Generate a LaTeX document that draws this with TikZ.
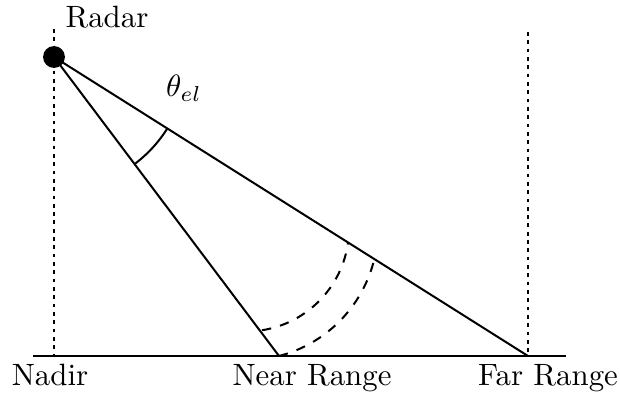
\documentclass[tikz,border=0pt]{standalone}
\usepackage{amsmath, amssymb}
\usepackage{tikz}
\usetikzlibrary{calc}

\begin{document}
\begin{tikzpicture}[
  x=0.0114cm, y=0.0114cm,
  line width=0.65pt,
  dot/.style={circle, fill=black, inner sep=0pt, minimum size=7.1pt},
  vline/.style={dash pattern=on 1.2pt off 1.5pt},
  lbl/.style={anchor=base, inner sep=0pt}
]
  \useasboundingbox (0,0) rectangle (620,397);
  \node[dot] (radar) at (54,340) {};
  \coordinate (nadir) at (54,41);
  \coordinate (near) at (279,41);
  \coordinate (far) at (528,41);
  \coordinate (gl) at (33,41);
  \coordinate (gr) at (566,41);
  \coordinate (ntop) at (54,368);
  \coordinate (ftop) at (528,365);
  \coordinate (rc) at (246,168.5);

  \draw[vline] (ntop) -- (nadir);
  \draw[vline] (ftop) -- (far);
  \draw[line width=0.8pt] (gl) -- (gr);
  \draw (radar.center) -- (near);
  \draw (radar.center) -- (far);

  % elevation angle and range arcs
  \draw (radar.center) ++(-53.04:134) arc[start angle=-53.04, end angle=-32.24, radius=134];
  \draw[dashed] (rc) ++(-81:103) arc[start angle=-81, end angle=-7.8, radius=103];
  \draw[dashed] (near) arc[start angle=-75.5, end angle=-13.4, radius=132];

  \node (radarlbl) at (107,380) {Radar};
  \node (theta) at (184,309) {$\theta_{el}$};
  \node[lbl] (nadirlbl) at (50,12) {Nadir};
  \node[lbl] (nearlbl) at (312,12) {Near Range};
  \node[lbl] (farlbl) at (548,12) {Far Range};
\end{tikzpicture}
\end{document}
